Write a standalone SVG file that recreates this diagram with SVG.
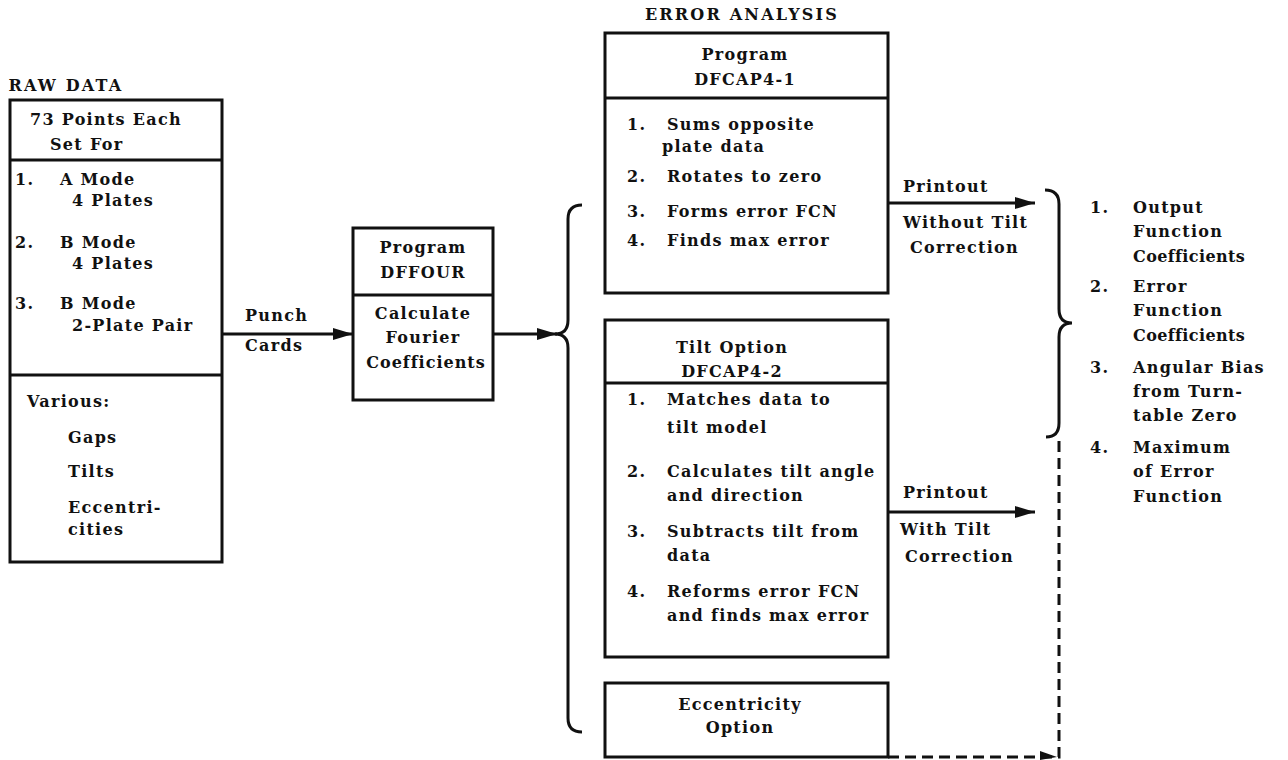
<svg xmlns="http://www.w3.org/2000/svg" width="1288" height="760" viewBox="0 0 1288 760">
<style>
text{font-family:"DejaVu Serif","Liberation Serif",serif;font-weight:bold;font-size:16px;letter-spacing:1.3px;fill:#111}
.m{text-anchor:middle}
.ttl{letter-spacing:2.2px}
.cf{letter-spacing:0.4px}
.box{fill:none;stroke:#111;stroke-width:3}
.ln{fill:none;stroke:#111;stroke-width:3}
.dash{fill:none;stroke:#111;stroke-width:3;stroke-dasharray:11 6}
</style>
<defs>
<marker id="ah" markerUnits="userSpaceOnUse" markerWidth="22" markerHeight="14" refX="20" refY="7" orient="auto">
<path d="M0,1 L20,7 L0,13 Z" fill="#111"/>
</marker>
</defs>
<rect width="1288" height="760" fill="#fff"/>

<g id="raw-data">
<text class="m ttl" x="66" y="91">RAW DATA</text>
<rect class="box" x="10" y="100" width="212" height="462"/>
<line class="ln" x1="10" y1="160" x2="222" y2="160"/>
<line class="ln" x1="10" y1="375" x2="222" y2="375"/>
<text x="30" y="125">73 Points Each</text>
<text x="50" y="150">Set For</text>
<text x="15" y="185">1.</text><text x="60" y="185">A Mode</text>
<text x="72" y="206">4 Plates</text>
<text x="15" y="248">2.</text><text x="60" y="248">B Mode</text>
<text x="72" y="269">4 Plates</text>
<text x="15" y="309">3.</text><text x="60" y="309">B Mode</text>
<text x="72" y="331">2-Plate Pair</text>
<text x="27" y="407">Various:</text>
<text x="68" y="443">Gaps</text>
<text x="68" y="477">Tilts</text>
<text x="68" y="513">Eccentri-</text>
<text x="68" y="535">cities</text>
</g>

<g id="dffour">
<rect class="box" x="353" y="228" width="140" height="172"/>
<line class="ln" x1="353" y1="295" x2="493" y2="295"/>
<text class="m" x="423" y="253">Program</text>
<text class="m" x="423" y="278">DFFOUR</text>
<text class="m" x="423" y="319">Calculate</text>
<text class="m" x="423" y="343">Fourier</text>
<text class="m" x="426" y="368" style="letter-spacing:1px">Coefficients</text>
</g>

<g id="dfcap4-1">
<text class="m ttl" x="742" y="20">ERROR ANALYSIS</text>
<rect class="box" x="605" y="33" width="283" height="260"/>
<line class="ln" x1="605" y1="98" x2="888" y2="98"/>
<text class="m" x="745" y="60">Program</text>
<text class="m" x="745" y="85">DFCAP4-1</text>
<text x="627" y="130">1.</text><text x="667" y="130">Sums opposite</text>
<text x="662" y="152">plate data</text>
<text x="627" y="182">2.</text><text x="667" y="182">Rotates to zero</text>
<text x="627" y="217">3.</text><text x="667" y="217">Forms error FCN</text>
<text x="627" y="246">4.</text><text x="667" y="246">Finds max error</text>
</g>

<g id="dfcap4-2">
<rect class="box" x="605" y="320" width="283" height="337"/>
<line class="ln" x1="605" y1="383" x2="888" y2="383"/>
<text class="m" x="732" y="353">Tilt Option</text>
<text class="m" x="732" y="377">DFCAP4-2</text>
<text x="627" y="405">1.</text><text x="667" y="405">Matches data to</text>
<text x="667" y="433">tilt model</text>
<text x="627" y="477">2.</text><text x="667" y="477">Calculates tilt angle</text>
<text x="667" y="501">and direction</text>
<text x="627" y="537">3.</text><text x="667" y="537">Subtracts tilt from</text>
<text x="667" y="561">data</text>
<text x="627" y="597">4.</text><text x="667" y="597">Reforms error FCN</text>
<text x="667" y="621">and finds max error</text>
</g>

<g id="eccentricity">
<rect class="box" x="605" y="683" width="283" height="74"/>
<text class="m" x="740" y="710">Eccentricity</text>
<text class="m" x="740" y="733">Option</text>
</g>

<g id="outputs">
<text x="1090" y="213">1.</text><text x="1133" y="213">Output</text>
<text x="1133" y="237">Function</text>
<text class="cf" x="1133" y="262">Coefficients</text>
<text x="1090" y="292">2.</text><text x="1133" y="292">Error</text>
<text x="1133" y="316">Function</text>
<text class="cf" x="1133" y="341">Coefficients</text>
<text x="1090" y="373">3.</text><text x="1133" y="373">Angular Bias</text>
<text x="1133" y="397">from Turn-</text>
<text x="1133" y="421">table Zero</text>
<text x="1090" y="453">4.</text><text x="1133" y="453">Maximum</text>
<text x="1133" y="477">of Error</text>
<text x="1133" y="502">Function</text>
</g>

<g id="connectors">
<line class="ln" x1="222" y1="334" x2="353" y2="334" marker-end="url(#ah)"/>
<text x="245" y="321">Punch</text>
<text x="245" y="351">Cards</text>
<line class="ln" x1="493" y1="334" x2="557" y2="334" marker-end="url(#ah)"/>
<path class="ln" d="M582,205 Q568,205 568,219 V320 Q568,334 555,334 Q568,334 568,348 V718 Q568,732 582,732"/>
<line class="ln" x1="888" y1="203" x2="1035" y2="203" marker-end="url(#ah)"/>
<text x="903" y="192">Printout</text>
<text x="903" y="228">Without Tilt</text>
<text x="910" y="253">Correction</text>
<line class="ln" x1="888" y1="512" x2="1035" y2="512" marker-end="url(#ah)"/>
<text x="903" y="498">Printout</text>
<text x="900" y="535">With Tilt</text>
<text x="905" y="562">Correction</text>
<path class="ln" d="M1045,190 Q1059,190 1059,204 V309 Q1059,323 1072,323 Q1059,323 1059,337 V423 Q1059,437 1046,437"/>
<path class="dash" d="M888,757 H1059 V437"/>
<path d="M1040,751 L1057,757 L1040,760 Z" fill="#111"/>
</g>
</svg>
